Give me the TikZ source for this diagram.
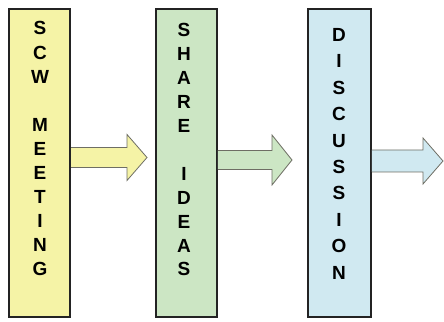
\documentclass[tikz,border=0pt]{standalone}
\usepackage{fontspec}
\setmainfont{Liberation Sans}
\usetikzlibrary{calc}
\definecolor{boxyellow}{RGB}{245,243,166}
\definecolor{boxgreen}{RGB}{204,230,196}
\definecolor{boxblue}{RGB}{208,233,241}
\definecolor{boxline}{RGB}{35,35,35}
\definecolor{arrline}{RGB}{110,110,100}
\tikzset{
  stagebox/.style={draw=boxline, line width=1.8pt, minimum height=308pt, inner sep=0pt},
  letters/.style={anchor=base, inner sep=0pt, font=\bfseries},
  blockarrow/.style={draw=arrline, line width=0.8pt, line join=miter}
}
\newcommand{\colfont}[1]{\fontsize{19}{#1}\selectfont}
\begin{document}
\begin{tikzpicture}[x=1pt,y=1pt]
\useasboundingbox (0,0) rectangle (444,321);
% boxes
\node[stagebox, fill=boxyellow, minimum width=61pt] (b1) at (39.8,158) {};
\node[stagebox, fill=boxgreen, minimum width=61pt] (b2) at (186.5,158) {};
\node[stagebox, fill=boxblue, minimum width=63pt] (b3) at (339.5,158) {};
% texts
\node[letters] (t1) at (40,286) {\colfont{24.1}\begin{tabular}[t]{@{}c@{}}S\\C\\W\\ \\M\\E\\E\\T\\I\\N\\G\end{tabular}};
\node[letters] (t2) at (184,284) {\colfont{23.9}\begin{tabular}[t]{@{}c@{}}S\\H\\A\\R\\E\\ \\I\\D\\E\\A\\S\end{tabular}};
\node[letters] (t3) at (339,279.5) {\colfont{26.4}\begin{tabular}[t]{@{}c@{}}D\\I\\S\\C\\U\\S\\S\\I\\O\\N\end{tabular}};
% arrows
\coordinate (a1) at (147,163.5);
\coordinate (a2) at (292,161);
\coordinate (a3) at (443,160);
\draw[blockarrow, fill=boxyellow]
  ($(b1.east|-a1)+(0,-10)$) -- ($(a1)+(-20,-10)$) -- ($(a1)+(-20,-23)$) -- (a1)
  -- ($(a1)+(-20,23)$) -- ($(a1)+(-20,10)$) -- ($(b1.east|-a1)+(0,10)$);
\draw[blockarrow, fill=boxgreen]
  ($(b2.east|-a2)+(0,-9.5)$) -- ($(a2)+(-20,-9.5)$) -- ($(a2)+(-20,-25)$) -- (a2)
  -- ($(a2)+(-20,25)$) -- ($(a2)+(-20,9.5)$) -- ($(b2.east|-a2)+(0,9.5)$);
\draw[blockarrow, fill=boxblue]
  ($(b3.east|-a3)+(0,-11)$) -- ($(a3)+(-20,-11)$) -- ($(a3)+(-20,-23)$) -- (a3)
  -- ($(a3)+(-20,23)$) -- ($(a3)+(-20,11)$) -- ($(b3.east|-a3)+(0,11)$);
\end{tikzpicture}
\end{document}
